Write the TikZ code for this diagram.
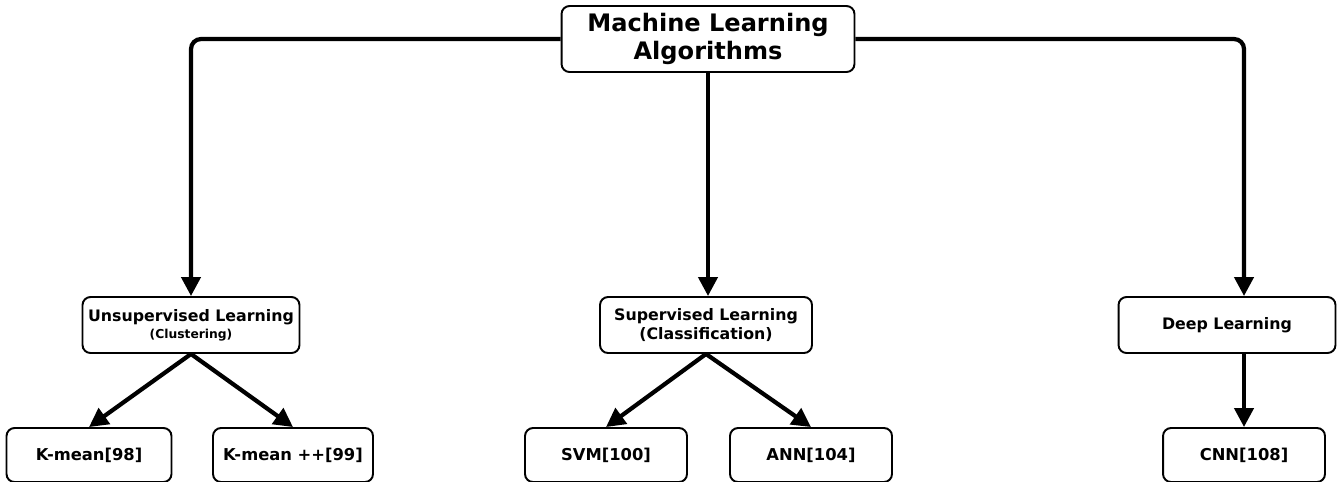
\documentclass[tikz,border=0pt]{standalone}
\usepackage{fontspec}
\setmainfont{DejaVu Sans}
\usetikzlibrary{arrows.meta,calc,positioning}

\begin{document}
\begin{tikzpicture}[
  x=0.02cm,y=-0.02cm,
  box/.style={draw=black,line width=1.1pt,fill=white,rounded corners=1.6mm,
              align=center,font=\bfseries,inner sep=1pt},
  rootbox/.style={box,minimum width=5.86cm,minimum height=1.32cm,
                  font=\fontsize{13.7}{16}\selectfont\bfseries},
  catbox/.style={box,minimum width=4.34cm,minimum height=1.12cm,
                 font=\fontsize{9}{10.5}\selectfont\bfseries},
  leafbox/.style={box,minimum width=3.24cm,minimum height=1.08cm,
                  font=\fontsize{9.3}{10}\selectfont\bfseries},
  arr/.style={-{Triangle[length=3.8mm,width=3.8mm]},line width=2.4pt,black},
  tree/.style={arr,rounded corners=2mm}
]
  \useasboundingbox (0,0) rectangle (1341,481);

  \node[rootbox] (root) at (708,39) {Machine Learning\\Algorithms};

  \node[catbox] (unsup) at (191,325)
    {Unsupervised Learning\\[-1pt]{\fontsize{7}{8}\selectfont(Clustering)}};
  \node[catbox,minimum width=4.24cm] (sup) at (706,325)
    {Supervised Learning\\(Classification)};
  \node[catbox] (deep) at (1227,325) {Deep Learning};

  \node[leafbox,minimum width=3.3cm] (kmean) at (89,455) {K-mean[98]};
  \node[leafbox,minimum width=3.2cm] (kmeanpp) at (293,455) {K-mean ++[99]};
  \node[leafbox] (svm) at (606,455) {SVM[100]};
  \node[leafbox] (ann) at (811,455) {ANN[104]};
  \node[leafbox] (cnn) at (1244,455) {CNN[108]};

  % root to the three families
  \draw[tree] (root.west) -| (unsup.north);
  \draw[arr] (root.south) -- (root.south |- sup.north);
  \draw[tree] (root.east) -| (deep.north -| cnn.north);

  % families to methods
  \draw[arr] (unsup.south) -- (kmean.north);
  \draw[arr] (unsup.south) -- (kmeanpp.north);
  \draw[arr] (sup.south) -- (svm.north);
  \draw[arr] (sup.south) -- (ann.north);
  \draw[arr] (deep.south -| cnn.north) -- (cnn.north);
\end{tikzpicture}
\end{document}
